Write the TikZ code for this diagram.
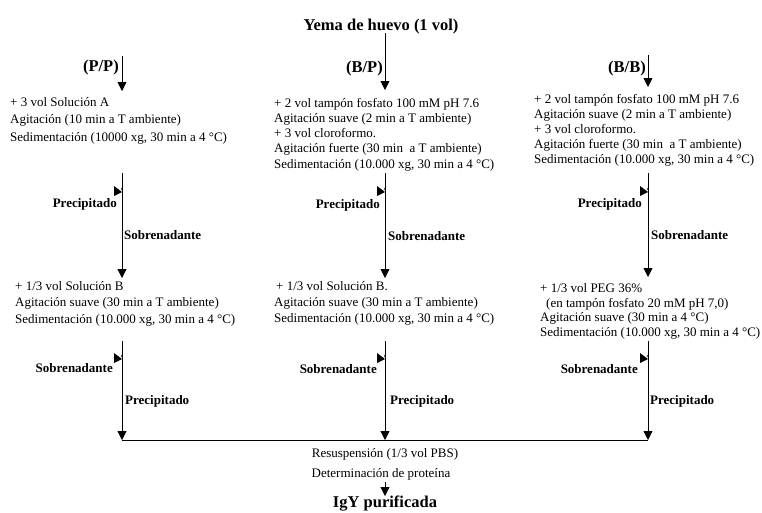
\documentclass[tikz,border=0pt]{standalone}
\usepackage{fontspec}
\setmainfont{Liberation Serif}
\usetikzlibrary{arrows.meta}
\begin{document}
\begin{tikzpicture}[x=1pt,y=-1pt,
  txt/.style={inner sep=0pt, anchor=base west, font=\fontsize{13}{15}\selectfont},
  cen/.style={inner sep=0pt, anchor=base, font=\fontsize{13}{15}\selectfont},
  labl/.style={inner sep=0pt, anchor=base east, font=\bfseries\fontsize{13}{15}\selectfont},
  labr/.style={inner sep=0pt, anchor=base west, font=\bfseries\fontsize{13}{15}\selectfont},
  ttl/.style={inner sep=0pt, anchor=base, font=\bfseries\fontsize{16.5}{18}\selectfont},
  flow/.style={line width=0.8pt, -{Triangle[length=9pt,width=9pt]}},
  plain/.style={line width=0.8pt},
  sidehead/.pic={\fill (-8,-5) -- (-8,5) -- (0,1) -- cycle; \draw[line width=0.5pt] (-1,-1) -- (1,-5);}]
\useasboundingbox (0,0) rectangle (762,512);

% title
\node[ttl] (title) at (381,30) {Yema de huevo (1 vol)};
\coordinate (t0) at (385,33);
\coordinate (t1) at (385,90);
\draw[flow] (t0) -- (t1);

% branch labels
\node[ttl, anchor=base east] (pp) at (119,71) {(P/P)};
\node[ttl, anchor=base east] (bp) at (383,72) {(B/P)};
\node[ttl, anchor=base east] (bb) at (646,72) {(B/B)};
\coordinate (a0) at (122,56);  \coordinate (a1) at (122,91);
\coordinate (c0) at (648,55);  \coordinate (c1) at (648,87);
\draw[flow] (a0) -- (a1);
\draw[flow] (c0) -- (c1);

% column 1, block 1
\node[txt] (p1) at (10,106) {+ 3 vol Solución A};
\node[txt] (p2) at (10,123.5) {Agitación (10 min a T ambiente)};
\node[txt] (p3) at (10,141) {Sedimentación (10000 xg, 30 min a 4 °C)};

% column 2, block 1
\node[txt] (q1) at (274,107) {+ 2 vol tampón fosfato 100 mM pH 7.6};
\node[txt] (q2) at (274,122.3) {Agitación suave (2 min a T ambiente)};
\node[txt] (q3) at (274,137.6) {+ 3 vol cloroformo.};
\node[txt] (q4) at (274,152.9) {Agitación fuerte (30 min\ \ a T ambiente)};
\node[txt] (q5) at (274,168.2) {Sedimentación (10.000 xg, 30 min a 4 °C)};

% column 3, block 1
\node[txt] (r1) at (534,103) {+ 2 vol tampón fosfato 100 mM pH 7.6};
\node[txt] (r2) at (534,118) {Agitación suave (2 min a T ambiente)};
\node[txt] (r3) at (534,133) {+ 3 vol cloroformo.};
\node[txt] (r4) at (534,148) {Agitación fuerte (30 min\ \ a T ambiente)};
\node[txt] (r5) at (534,163) {Sedimentación (10.000 xg, 30 min a 4 °C)};

% second-level arrows
\coordinate (a2) at (122,173); \coordinate (a3) at (122,278);
\coordinate (b2) at (385,173); \coordinate (b3) at (385,278);
\coordinate (c2) at (648,173); \coordinate (c3) at (648,277);
\draw[flow] (a2) -- (a3);
\draw[flow] (b2) -- (b3);
\draw[flow] (c2) -- (c3);
\pic at (122,191) {sidehead};
\pic at (385,191) {sidehead};
\pic at (648,191) {sidehead};
\node[labl] (pa1) at (117,207) {Precipitado};
\node[labr] (sa1) at (124,239) {Sobrenadante};
\node[labl] (pb1) at (380,208) {Precipitado};
\node[labr] (sb1) at (388,240) {Sobrenadante};
\node[labl] (pc1) at (642,207) {Precipitado};
\node[labr] (sc1) at (651,239) {Sobrenadante};

% column 1, block 2
\node[txt] (p4) at (15,290) {+ 1/3 vol Solución B};
\node[txt] (p5) at (15,306.5) {Agitación suave (30 min a T ambiente)};
\node[txt] (p6) at (15,323) {Sedimentación (10.000 xg, 30 min a 4 °C)};

% column 2, block 2
\node[txt] (q6) at (276,290) {+ 1/3 vol Solución B.};
\node[txt] (q7) at (274,306) {Agitación suave (30 min a T ambiente)};
\node[txt] (q8) at (274,322) {Sedimentación (10.000 xg, 30 min a 4 °C)};

% column 3, block 2
\node[txt] (r6) at (540,292) {+ 1/3 vol PEG 36\%};
\node[txt] (r7) at (546,307) {(en tampón fosfato 20 mM pH 7,0)};
\node[txt] (r8) at (540,321.5) {Agitación suave (30 min a 4 °C)};
\node[txt] (r9) at (540,336) {Sedimentación (10.000 xg, 30 min a 4 °C)};

% third-level arrows
\coordinate (a4) at (122,341); \coordinate (a5) at (122,440);
\coordinate (b4) at (385,341); \coordinate (b5) at (385,440);
\coordinate (c4) at (648,341); \coordinate (c5) at (648,440);
\draw[flow] (a4) -- (a5);
\draw[flow] (b4) -- (b5);
\draw[flow] (c4) -- (c5);
\pic at (122,358) {sidehead};
\pic at (385,358) {sidehead};
\pic at (648,358) {sidehead};
\node[labl] (sa2) at (113,372) {Sobrenadante};
\node[labr] (pa2) at (125,404) {Precipitado};
\node[labl] (sb2) at (377,373) {Sobrenadante};
\node[labr] (pb2) at (390,404) {Precipitado};
\node[labl] (sc2) at (638,373) {Sobrenadante};
\node[labr] (pc2) at (650,404) {Precipitado};

% joining line
\draw[plain] (a5) -- (c5);

% final steps
\node[cen] (s1) at (385,457) {Resuspensión (1/3 vol PBS)};
\node[cen] (s2) at (381,477) {Determinación de proteína};
\coordinate (f0) at (385,482); \coordinate (f1) at (385,496);
\draw[flow] (f0) -- (f1);
\node[ttl] (igy) at (385,507) {IgY purificada};
\end{tikzpicture}
\end{document}
